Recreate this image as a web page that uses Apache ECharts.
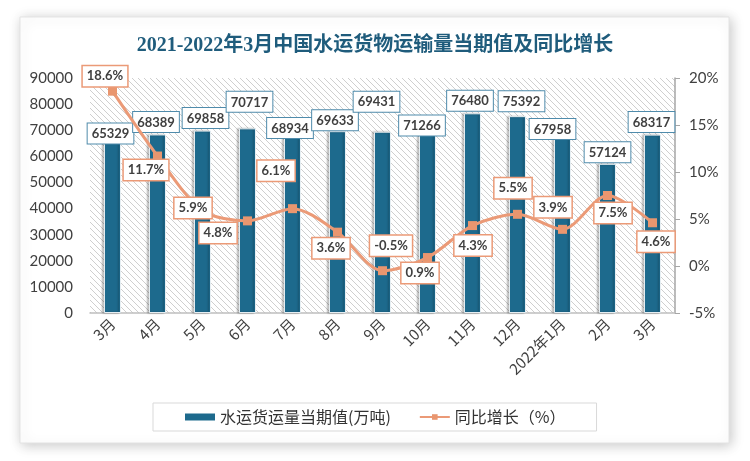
<!DOCTYPE html>
<html>
<head>
<meta charset="utf-8">
<script src="https://cdn.jsdelivr.net/npm/echarts@6/dist/echarts.min.js"></script>
<style>
html,body{margin:0;padding:0;background:#fff;}
#c{width:750px;height:461px;}
</style>
</head>
<body>
<div id="c"></div>
<script>
// ---- data ----
const categories = ['3月','4月','5月','6月','7月','8月','9月','10月','11月','12月','2022年1月','2月','3月'];
const volume = [65329, 68389, 69858, 70717, 68934, 69633, 69431, 71266, 76480, 75392, 67958, 57124, 68317];
const growth = [18.6, 11.7, 5.9, 4.8, 6.1, 3.6, -0.5, 0.9, 4.3, 5.5, 3.9, 7.5, 4.6];
const leftTicks = {min: 0, max: 90000, interval: 10000};
const rightTicks = {min: -5, max: 20, interval: 5};

// ---- label placement (style only) ----
const barLabelOffsets = [[-2,1],[-1.5,-2.5],[3,-2.5],[2,-16.5],[-2.5,5],[-2.5,-1],[-6,-20],[-5.5,8.5],[-2.5,-2.5],[4,-5],[-10,3.5],[0,-1.5],[-1,-2.5]];
const lineLabelOffsets = [[-7.5,-15],[-11.5,14],[-9.5,-2.5],[-29.5,12],[-16.5,-38],[-6.5,16],[8.5,-25],[-7.5,15.5],[0.5,20],[-4.5,-26],[-9.5,-22],[5.5,17.5],[3.5,19]];

// hatch pattern
const pc = document.createElement('canvas');
pc.width = 6; pc.height = 6;
const pctx = pc.getContext('2d');
pctx.fillStyle = '#ffffff';
pctx.fillRect(0,0,6,6);
pctx.strokeStyle = '#cfcfcf';
pctx.lineWidth = 1;
pctx.beginPath();
pctx.moveTo(-1,-1); pctx.lineTo(7,7);
pctx.moveTo(-1,5); pctx.lineTo(1,7);
pctx.moveTo(5,-1); pctx.lineTo(7,1);
pctx.stroke();

const numFont = "Lato, 'Open Sans', 'Noto Sans CJK SC', sans-serif";
const cjkFont = "'Noto Sans CJK SC', Lato, sans-serif";

const barData = volume.map((v,i)=>({value:v, label:{offset:barLabelOffsets[i]}}));
const lineData = growth.map((v,i)=>({value:v, label:{offset:lineLabelOffsets[i]}}));

const chart = echarts.init(document.getElementById('c'), null, {renderer:'canvas'});
chart.setOption({
  animation:false,
  backgroundColor:'#ffffff',
  graphic:[{
    type:'rect', z:-10, silent:true,
    shape:{x:20,y:17,width:709,height:426},
    style:{fill:'#ffffff', stroke:'#e3e3e3', lineWidth:1, shadowBlur:12, shadowOffsetX:2, shadowOffsetY:2, shadowColor:'rgba(0,0,0,0.22)'}
  }],
  title:{
    text:'2021-2022年3月中国水运货物运输量当期值及同比增长',
    left:'center', top:31,
    textStyle:{color:'#1f5c7c', fontSize:20, fontWeight:'bold', fontFamily:"'Liberation Serif','Noto Sans CJK SC',serif"}
  },
  grid:{left:90, right:75, top:78, bottom:148, show:true, borderWidth:0,
    backgroundColor:{image:pc, repeat:'repeat'}},
  legend:{
    left:153, top:403,
    padding:[6,31,6,32],
    borderColor:'#d9d9d9', borderWidth:1,
    itemGap:28, itemWidth:30, itemHeight:7,
    textStyle:{fontSize:16, color:'#333333', fontFamily:cjkFont},
    data:[
      {name:'水运货运量当期值(万吨)', icon:'rect', itemStyle:{borderWidth:0, shadowBlur:0, shadowOffsetX:0, shadowColor:'transparent'}},
      {name:'同比增长（%）'}
    ]
  },
  xAxis:{
    type:'category', data:categories,
    axisLine:{show:true, lineStyle:{color:'#bfbfbf', width:1.5}},
    axisTick:{show:false},
    axisLabel:{interval:0, rotate:45, margin:8, fontSize:15, color:'#404040', fontFamily:cjkFont}
  },
  yAxis:[{
    type:'value', min:leftTicks.min, max:leftTicks.max, interval:leftTicks.interval,
    axisLine:{show:false}, axisTick:{show:false}, splitLine:{show:false},
    axisLabel:{margin:17, fontSize:15, color:'#404040', fontFamily:numFont, formatter:v=>String(v)}
  },{
    type:'value', position:'right', min:rightTicks.min, max:rightTicks.max, interval:rightTicks.interval,
    axisLine:{show:true, lineStyle:{color:'#a6a6a6', width:1.5}},
    axisTick:{show:true, length:5, lineStyle:{color:'#a6a6a6'}},
    splitLine:{show:false},
    axisLabel:{margin:14, fontSize:15, color:'#404040', fontFamily:numFont, formatter:'{value}%'}
  }],
  series:[{
    name:'水运货运量当期值(万吨)', type:'bar', yAxisIndex:0, barWidth:17,
    data:barData,
    itemStyle:{color:'#1d6a8d', borderColor:'#e6eef2', borderWidth:1, shadowColor:'rgba(0,0,0,0.28)', shadowBlur:2, shadowOffsetX:-2},
    label:{show:true, position:'top', distance:0,
      backgroundColor:'#ffffff', borderColor:'#4f8bab', borderWidth:1, padding:[4,4,3,4],
      color:'#404040', fontSize:13, fontWeight:'bold', fontFamily:numFont},
    z:2
  },{
    name:'同比增长（%）', type:'line', yAxisIndex:1, smooth:0.3,
    data:lineData,
    symbol:'rect', symbolSize:9,
    lineStyle:{color:'#eb9a77', width:3},
    itemStyle:{color:'#e9966f'},
    label:{show:true, position:'inside',
      formatter:p=>p.value+'%',
      backgroundColor:'#ffffff', borderColor:'#eb9a77', borderWidth:1.5, padding:[4,4,3,4],
      color:'#404040', fontSize:13, fontWeight:'bold', fontFamily:numFont},
    z:3
  }]
});
</script>
</body>
</html>
